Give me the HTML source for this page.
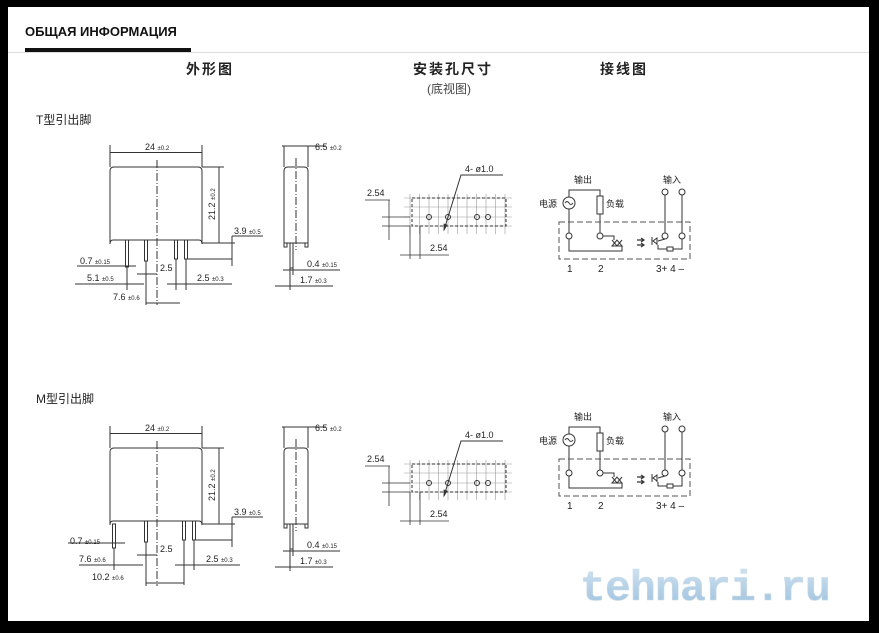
<!DOCTYPE html>
<html><head><meta charset="utf-8"><style>
html,body{margin:0;padding:0;background:#000;}
#w{position:absolute;left:8px;top:7px;width:861px;height:614px;background:#fff;overflow:hidden;}
svg{position:absolute;left:0;top:0;}
text{font-family:"Liberation Sans","Noto Sans CJK SC",sans-serif;fill:#222;}
</style></head><body>
<div id="w"></div>
<svg width="879" height="633" viewBox="0 0 879 633" xmlns="http://www.w3.org/2000/svg">
<text x="25" y="36" style="font-size:13px;font-weight:bold;fill:#111">ОБЩАЯ ИНФОРМАЦИЯ</text>
<line x1="8" y1="52.5" x2="869" y2="52.5" stroke="#ddd"/>
<rect x="25" y="48" width="166" height="4" fill="#111"/>
<text x="186" y="74" style="font-size:14px;font-weight:bold;letter-spacing:2px">外形图</text>
<text x="413" y="74" style="font-size:14px;font-weight:bold;letter-spacing:2px">安装孔尺寸</text>
<text x="427" y="93" style="font-size:12px;fill:#444">(底视图)</text>
<text x="600" y="74" style="font-size:14px;font-weight:bold;letter-spacing:2px">接线图</text>
<text x="36" y="124" style="font-size:12px">T型引出脚</text>
<text x="36" y="403" style="font-size:12px">M型引出脚</text>

<defs>
<g id="body" stroke="#333" fill="none" stroke-width="1">
 <line x1="110" y1="145" x2="110" y2="167"/><line x1="202" y1="145" x2="202" y2="167"/>
 <line x1="110" y1="152.5" x2="202" y2="152.5"/>
 <text x="145" y="150" style="font-size:9px" stroke="none">24 <tspan style="font-size:6px">±0.2</tspan></text>
 <path d="M113 240 Q110 240 110 244 L110 171 Q110 167 114 167 L198 167 Q202 167 202 171 L202 244 Q202 240 199 240 Z"/>
 <line x1="157" y1="160" x2="157" y2="305" stroke-dasharray="8,2,1,2"/>
 <line x1="202" y1="167" x2="224" y2="167"/>
 <line x1="219" y1="167" x2="219" y2="243"/>
 <text x="0" y="0" transform="translate(215,220) rotate(-90)" style="font-size:9px" stroke="none">21.2 <tspan style="font-size:6px">±0.2</tspan></text>
 <line x1="202" y1="243" x2="235" y2="243"/>
 <line x1="232" y1="236" x2="232" y2="266"/>
 <line x1="232" y1="236" x2="263" y2="236"/>
 <text x="234" y="234" style="font-size:9px" stroke="none">3.9 <tspan style="font-size:6px">±0.5</tspan></text>
 <line x1="282" y1="146" x2="326" y2="146"/>
 <line x1="284" y1="146" x2="284" y2="167"/><line x1="308" y1="146" x2="308" y2="167"/>
 <text x="315" y="150" style="font-size:9px" stroke="none">6.5 <tspan style="font-size:6px">±0.2</tspan></text>
 <path d="M284 243 L284 171 Q284 167 288 167 L304 167 Q308 167 308 171 L308 243 Z"/>
 <line x1="296" y1="158" x2="296" y2="250" stroke-dasharray="8,2,1,2"/>
 <path d="M284 243 v4 h3 v-4 M305 243 v4 h3 v-4"/>
 <rect x="290" y="243" width="3" height="25"/>
 <line x1="290" y1="262" x2="290" y2="290"/><line x1="293" y1="262" x2="293" y2="275"/>
 <line x1="283" y1="270" x2="340" y2="270"/>
 <text x="307" y="267" style="font-size:9px" stroke="none">0.4 <tspan style="font-size:6px">±0.15</tspan></text>
 <line x1="275" y1="286" x2="333" y2="286"/>
 <text x="300" y="283" style="font-size:9px" stroke="none">1.7 <tspan style="font-size:6px">±0.3</tspan></text>
</g>
<g id="holes" stroke="#333" fill="none" stroke-width="0.8">
 <g stroke="#999" stroke-width="0.6">
  <path d="M410 194v40M419.5 194v40M429 194v40M438.5 194v40M448 194v40M457.5 194v40M467 194v40M476.5 194v40M486 194v40M495.5 194v40M505 194v40"/>
  <path d="M404 198h108M404 207h108M404 217h108M404 226h108"/>
 </g>
 <rect x="412" y="198" width="94" height="28" stroke-dasharray="3,2" stroke-width="1"/>
 <circle cx="429" cy="217" r="2.5" stroke-width="1"/><circle cx="448" cy="217" r="2.5" stroke-width="1"/><circle cx="477" cy="217" r="2.5" stroke-width="1"/><circle cx="488" cy="217" r="2.5" stroke-width="1"/>
 <polyline points="444,230 461,175 503,175" stroke-width="1"/>
 <path d="M444 230 l0 -6 l3 1z" fill="#333"/>
 <text x="465" y="172" style="font-size:9px" stroke="none">4- ø1.0</text>
 <line x1="365" y1="200" x2="390" y2="200"/>
 <line x1="389" y1="200" x2="389" y2="240"/>
 <line x1="382" y1="217" x2="410" y2="217"/><line x1="382" y1="226" x2="410" y2="226"/>
 <text x="367" y="196" style="font-size:9px" stroke="none">2.54</text>
 <line x1="400" y1="255" x2="449" y2="255"/>
 <line x1="410" y1="226" x2="410" y2="259"/><line x1="420" y1="226" x2="420" y2="259"/>
 <text x="430" y="251" style="font-size:9px" stroke="none">2.54</text>
</g>
<g id="wire" stroke="#333" fill="none" stroke-width="1">
 <text x="574" y="183" style="font-size:9px" stroke="none">输出</text>
 <text x="663" y="183" style="font-size:9px" stroke="none">输入</text>
 <text x="539" y="207" style="font-size:9px" stroke="none">电源</text>
 <text x="606" y="207" style="font-size:9px" stroke="none">负载</text>
 <path d="M569 233 V209 M569 197 V190 H600 V196 M600 214 V233"/>
 <circle cx="569" cy="203" r="6"/>
 <path d="M565 203 q2 -3 4 0 q2 3 4 0"/>
 <rect x="597" y="196" width="6" height="18"/>
 <rect x="559" y="222" width="131" height="37" stroke-dasharray="6,3" stroke="#555"/>
 <circle cx="569" cy="236" r="3"/><circle cx="600" cy="236" r="3"/>
 <circle cx="665" cy="236" r="3"/><circle cx="682" cy="236" r="3"/>
 <circle cx="665" cy="192" r="3"/><circle cx="682" cy="192" r="3"/>
 <path d="M569 239 V251 H622 V246 M603 236 H614 V240"/>
 <path d="M612 246 l5 -6 l5 6z M612 240 l5 6 l5 -6"/>
 <path d="M637 240h7M637 245h7M641 238l3 2-3 2M641 243l3 2-3 2" stroke-width="1.2"/>
 <path d="M652 237v8 M653 241l4-3v6z M657 238v7"/>
 <path d="M658 241 L665 239 M665 195 V233 M682 195 V233 M658 245 V249 H667 M673 249 H682 V239"/>
 <rect x="667" y="247" width="6" height="4"/>
 <text x="567" y="272" style="font-size:10px" stroke="none">1</text>
 <text x="598" y="272" style="font-size:10px" stroke="none">2</text>
 <text x="656" y="272" style="font-size:10px" stroke="none">3+ 4 –</text>
</g>
</defs>

<!-- T type -->
<use href="#body"/>
<g stroke="#333" fill="none" stroke-width="1">
 <rect x="125.5" y="240" width="3" height="27"/><rect x="144.5" y="240" width="3" height="21"/>
 <rect x="174.5" y="240" width="3" height="19"/><rect x="184.5" y="240" width="3" height="19"/>
 <line x1="186" y1="259" x2="232" y2="259"/>
 <line x1="77" y1="266" x2="136" y2="266"/>
 <text x="80" y="264" style="font-size:9px" stroke="none">0.7 <tspan style="font-size:6px">±0.15</tspan></text>
 <line x1="137" y1="274" x2="157" y2="274"/>
 <text x="160" y="271" style="font-size:9px" stroke="none">2.5</text>
 <line x1="75" y1="284" x2="144" y2="284"/><line x1="127" y1="267" x2="127" y2="290"/>
 <text x="87" y="281" style="font-size:9px" stroke="none">5.1 <tspan style="font-size:6px">±0.5</tspan></text>
 <line x1="167" y1="284" x2="232" y2="284"/><line x1="176" y1="259" x2="176" y2="290"/><line x1="186" y1="259" x2="186" y2="290"/>
 <text x="197" y="281" style="font-size:9px" stroke="none">2.5 <tspan style="font-size:6px">±0.3</tspan></text>
 <line x1="146" y1="261" x2="146" y2="305"/>
 <line x1="146" y1="303" x2="180" y2="303"/>
 <text x="113" y="300" style="font-size:9px" stroke="none">7.6 <tspan style="font-size:6px">±0.6</tspan></text>
</g>
<use href="#holes"/>
<use href="#wire"/>

<!-- M type -->
<use href="#body" transform="translate(0,281)"/>
<g stroke="#333" fill="none" stroke-width="1">
 <rect x="112.5" y="524" width="3" height="24"/><rect x="144.5" y="521" width="3" height="21"/>
 <rect x="182.5" y="521" width="3" height="19"/><rect x="192.5" y="521" width="3" height="19"/>
 <line x1="194" y1="540" x2="232" y2="540"/>
 <line x1="68" y1="543" x2="125" y2="543"/>
 <text x="70" y="544" style="font-size:9px" stroke="none">0.7 <tspan style="font-size:6px">±0.15</tspan></text>
 <line x1="137" y1="555" x2="157" y2="555"/>
 <text x="160" y="552" style="font-size:9px" stroke="none">2.5</text>
 <line x1="79" y1="565" x2="143" y2="565"/><line x1="114" y1="548" x2="114" y2="570"/>
 <text x="79" y="562" style="font-size:9px" stroke="none">7.6 <tspan style="font-size:6px">±0.6</tspan></text>
 <line x1="175" y1="565" x2="240" y2="565"/><line x1="184" y1="540" x2="184" y2="585"/><line x1="194" y1="540" x2="194" y2="570"/>
 <text x="206" y="562" style="font-size:9px" stroke="none">2.5 <tspan style="font-size:6px">±0.3</tspan></text>
 <line x1="146" y1="542" x2="146" y2="586"/>
 <line x1="146" y1="583" x2="184" y2="583"/>
 <text x="92" y="580" style="font-size:9px" stroke="none">10.2 <tspan style="font-size:6px">±0.6</tspan></text>
</g>
<use href="#holes" transform="translate(0,266)"/>
<use href="#wire" transform="translate(0,237)"/>

<defs><linearGradient id="wm" x1="0" y1="0" x2="0" y2="1"><stop offset="0" stop-color="#d4e6f3"/><stop offset="0.5" stop-color="#b4d0e6"/><stop offset="1" stop-color="#9cc0dc"/></linearGradient></defs>
<text x="580" y="600" style="font-size:43px;font-weight:bold;font-family:'Liberation Mono',monospace;fill:url(#wm);stroke:#c8dbe9;stroke-width:0.6;letter-spacing:-0.8px">tehnari.ru</text>
</svg>
</body></html>
